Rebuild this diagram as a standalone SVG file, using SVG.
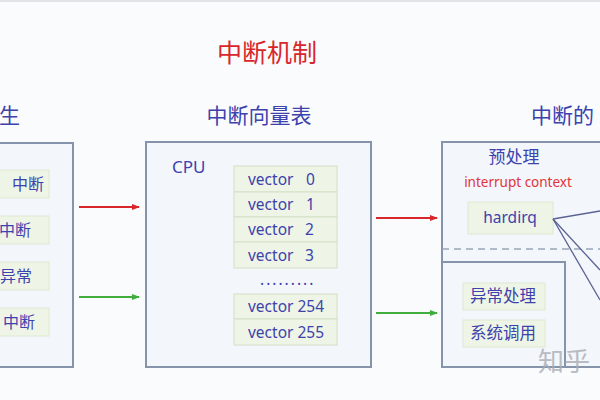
<svg xmlns="http://www.w3.org/2000/svg" width="600" height="400" viewBox="0 0 600 400">
<defs>
<style>
.bg{fill:#fafbfd}
.box{fill:#f3f6fb;stroke:#8593ab;stroke-width:2}
.item{fill:#eef5e6;stroke:#dde8d2;stroke-width:1}
.row{fill:#eef5e6;stroke:#d3dfc6;stroke-width:1}
.t{font-family:"Noto Sans CJK SC","Noto Sans",sans-serif;fill:#3d42ad}
.v{font-family:"Noto Sans","Liberation Sans",sans-serif;fill:#3d42ad;font-size:15.5px}
.hd{font-size:21px}
.it{font-size:16px}
.red{stroke:#d8262a;stroke-width:2;fill:none}
.grn{stroke:#3fae3f;stroke-width:2;fill:none}
.ln{stroke:#5a6394;stroke-width:1.3;fill:none}
</style>
<marker id="ar" markerWidth="8" markerHeight="8" refX="7" refY="4" orient="auto" markerUnits="userSpaceOnUse"><path d="M0,1 L8,4 L0,7 Z" fill="#d8262a"/></marker>
<marker id="ag" markerWidth="8" markerHeight="8" refX="7" refY="4" orient="auto" markerUnits="userSpaceOnUse"><path d="M0,1 L8,4 L0,7 Z" fill="#3fae3f"/></marker>
</defs>
<rect class="bg" x="0" y="0" width="600" height="400"/>
<rect x="0" y="0" width="600" height="2" fill="#e2e4e8"/>
<text x="267" y="62" text-anchor="middle" font-family="Noto Sans CJK SC,sans-serif" font-size="25" fill="#d8262a">中断机制</text>

<g id="source">
<text class="t hd" x="-1" y="123">生</text>
<rect class="box" x="-5" y="143" width="78" height="224"/>
<g id="s1"><rect class="item" x="-5" y="170" width="54" height="28"/><text class="t it" x="28" y="190" text-anchor="middle">中断</text></g>
<g id="s2"><rect class="item" x="-5" y="216" width="54" height="28"/><text class="t it" x="15" y="236" text-anchor="middle">中断</text></g>
<g id="s3"><rect class="item" x="-5" y="262" width="54" height="28"/><text class="t it" x="16" y="282" text-anchor="middle">异常</text></g>
<g id="s4"><rect class="item" x="-5" y="308" width="54" height="28"/><text class="t it" x="19" y="328" text-anchor="middle">中断</text></g>
</g>

<g id="vectortable">
<text class="t hd" x="259" y="123" text-anchor="middle">中断向量表</text>
<rect class="box" x="146" y="142" width="225" height="225"/>
<text class="v" x="172" y="173" style="font-size:17px">CPU</text>
<rect class="row" x="234" y="166" width="103" height="26"/>
<rect class="row" x="234" y="192" width="103" height="25"/>
<rect class="row" x="234" y="217" width="103" height="25"/>
<rect class="row" x="234" y="242" width="103" height="26"/>
<text class="v" x="248" y="185">vector<tspan x="306">0</tspan></text>
<text class="v" x="248" y="210">vector<tspan x="306">1</tspan></text>
<text class="v" x="248" y="235">vector<tspan x="305">2</tspan></text>
<text class="v" x="248" y="261">vector<tspan x="305">3</tspan></text>
<text class="v" x="260" y="285" letter-spacing="2">.........</text>
<rect class="row" x="234" y="294" width="103" height="25"/>
<rect class="row" x="234" y="319" width="103" height="26"/>
<text class="v" x="248" y="312">vector 254</text>
<text class="v" x="248" y="338">vector 255</text>
</g>

<g id="handler">
<text class="t hd" x="531" y="123">中断的</text>
<rect class="box" x="442" y="142" width="170" height="225"/>
<text class="t" x="514" y="163" font-size="17" text-anchor="middle">预处理</text>
<text x="518" y="187" font-family="Noto Sans,Liberation Sans,sans-serif" font-size="13.5" fill="#e0353a" text-anchor="middle">interrupt context</text>
<g id="hardirq"><rect class="item" x="468" y="202" width="85" height="32"/><text class="v" x="510" y="223" text-anchor="middle">hardirq</text></g>
<line x1="442" y1="249" x2="600" y2="249" stroke="#9aa5b8" stroke-width="1.5" stroke-dasharray="7,5"/>
<rect class="box" x="442" y="262" width="123" height="105" fill="none"/>
<g id="exc"><rect class="item" x="463" y="283" width="82" height="27"/><text class="t" font-size="16.5" x="503" y="302" text-anchor="middle">异常处理</text></g>
<g id="sys"><rect class="item" x="463" y="320" width="82" height="27"/><text class="t" font-size="16.5" x="503" y="339" text-anchor="middle">系统调用</text></g>
</g>

<g id="connectors">
<line class="red" x1="79" y1="207" x2="139" y2="207" marker-end="url(#ar)"/>
<line class="grn" x1="79" y1="297" x2="139" y2="297" marker-end="url(#ag)"/>
<line class="red" x1="376" y1="218" x2="437" y2="218" marker-end="url(#ar)"/>
<line class="grn" x1="376" y1="313" x2="437" y2="313" marker-end="url(#ag)"/>
<line class="ln" x1="553" y1="219" x2="600" y2="211"/>
<line class="ln" x1="553" y1="219" x2="600" y2="270"/>
<line class="ln" x1="553" y1="219" x2="600" y2="300"/>
</g>
<text x="538" y="371" font-family="Noto Sans CJK SC,sans-serif" font-size="26" fill="#a9adb4" opacity="0.8">知乎</text>
</svg>
